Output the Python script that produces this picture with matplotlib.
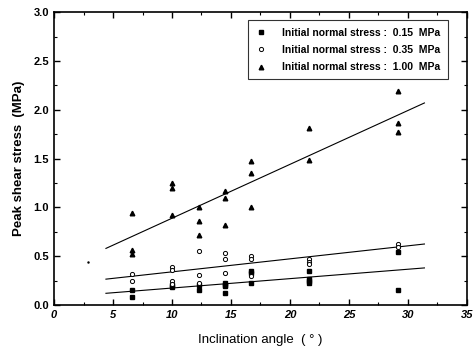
import numpy as np
import matplotlib.pyplot as plt
from matplotlib.ticker import MultipleLocator

plt.rcParams['font.family'] = ['Liberation Sans', 'DejaVu Sans']

# initial normal stress 0.15 MPa
x_015 = [6.6, 6.6, 10.0, 10.0, 12.3, 12.3, 14.5, 14.5, 14.5, 14.5, 16.7, 16.7, 16.7,
         21.6, 21.6, 21.6, 21.6, 29.2, 29.2]
y_015 = [0.15, 0.08, 0.21, 0.18, 0.20, 0.15, 0.23, 0.205, 0.19, 0.12, 0.35, 0.325, 0.23,
         0.35, 0.27, 0.245, 0.225, 0.54, 0.15]

# initial normal stress 0.35 MPa
x_035 = [6.6, 6.6, 10.0, 10.0, 10.0, 10.0, 12.3, 12.3, 12.3, 14.5, 14.5, 14.5,
         16.7, 16.7, 16.7, 21.6, 21.6, 21.6, 29.2, 29.2]
y_035 = [0.32, 0.25, 0.385, 0.36, 0.25, 0.22, 0.555, 0.31, 0.23, 0.535, 0.47, 0.33,
         0.50, 0.47, 0.30, 0.47, 0.44, 0.42, 0.62, 0.59]

# initial normal stress 1.00 MPa
x_100 = [6.6, 6.6, 6.6, 10.0, 10.0, 10.0, 12.3, 12.3, 12.3, 14.5, 14.5, 14.5,
         16.7, 16.7, 16.7, 21.6, 21.6, 29.2, 29.2, 29.2]
y_100 = [0.94, 0.56, 0.52, 1.245, 1.20, 0.92, 1.0, 0.86, 0.72, 1.17, 1.10, 0.82,
         1.48, 1.35, 1.0, 1.81, 1.49, 2.19, 1.86, 1.77]

# fitted lines: endpoints
fit_x = [4.4, 31.4]
fit_015 = [0.12, 0.38]
fit_035 = [0.265, 0.625]
fit_100 = [0.58, 2.07]

fig = plt.figure(figsize=(4.74, 3.58), dpi=100)
ax = fig.add_axes([0.114, 0.148, 0.871, 0.818])

ax.plot(fit_x, fit_015, color='black', lw=0.8)
ax.plot(fit_x, fit_035, color='black', lw=0.8)
ax.plot(fit_x, fit_100, color='black', lw=0.8)

ax.plot(x_015, y_015, 's', color='black', ms=2.5, ls='none',
        label='Initial normal stress :  0.15  MPa')
ax.plot(x_035, y_035, 'o', mfc='white', mec='black', mew=0.7, ms=3, ls='none',
        label='Initial normal stress :  0.35  MPa')
ax.plot(x_100, y_100, '^', color='black', ms=3.3, ls='none',
        label='Initial normal stress :  1.00  MPa')
# small stray dot in the scan
ax.plot([2.9], [0.44], '.', color='black', ms=1.5)

ax.set_xlim(0, 35)
ax.set_ylim(0, 3.0)
ax.xaxis.set_major_locator(MultipleLocator(5))
ax.xaxis.set_minor_locator(MultipleLocator(2.5))
ax.yaxis.set_major_locator(MultipleLocator(0.5))
ax.yaxis.set_minor_locator(MultipleLocator(0.25))
ax.tick_params(which='both', direction='in', top=True, right=True)
ax.tick_params(which='major', length=4, width=1)
ax.tick_params(which='minor', length=2, width=0.8)
for s in ax.spines.values():
    s.set_linewidth(1.2)

ax.set_xticks(np.arange(0, 36, 5))
ax.set_xticklabels([str(v) for v in range(0, 36, 5)], fontsize=8, fontstyle='italic', fontweight='bold')
ax.set_yticks(np.arange(0, 3.01, 0.5))
ax.set_yticklabels(['%.1f' % v for v in np.arange(0, 3.01, 0.5)], fontsize=8, fontweight='bold')

ax.set_xlabel('Inclination angle  ( ° )', fontsize=9.5, labelpad=10)
ax.set_ylabel('Peak shear stress  (MPa)', fontsize=9.5, fontweight='bold', labelpad=6)

leg = ax.legend(loc='upper right', bbox_to_anchor=(0.966, 0.99),
                frameon=True, fancybox=False, edgecolor='black', handlelength=1.2,
                handletextpad=1.4, borderpad=0.7, labelspacing=0.7,
                prop={'weight': 'bold', 'size': 7.5})
leg.get_frame().set_linewidth(0.8)

fig.savefig('out.png', dpi=100)
